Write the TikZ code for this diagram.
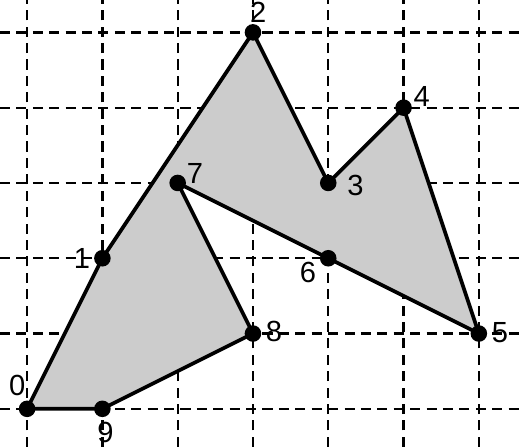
\documentclass[tikz,border=0pt]{standalone}
\usepackage{fontspec}
\setmainfont{Liberation Sans}
\usetikzlibrary{positioning}

\begin{document}
\begin{tikzpicture}
    \tikzset{gridline/.style={draw=black,dash pattern=on 3.8pt off 2.4pt,line width=0.85pt}}
    \tikzset{region/.style={draw=black,fill=black!20,line width=1.4pt,line join=round}}
    \tikzset{vertex/.style={circle,fill=black,inner sep=0pt,minimum size=0.22cm}}
    \tikzset{tag/.style={inner sep=0pt,font=\fontsize{11}{13}\selectfont}}
    \useasboundingbox (-0.36,-0.505) rectangle (6.56,5.43);
    % Grid
    \draw[gridline] (-0.36,-0.505) grid (6.56,5.43);
    % Vertices
    \foreach \n/\x/\y in {0/0/0, 1/1/2, 2/3/5, 3/4/3, 4/5/4, 5/6/1, 6/4/2, 7/2/3, 8/3/1, 9/1/0}
        \coordinate (p\n) at (\x,\y);
    % Polygon
    \draw[region] (p0) -- (p1) -- (p2) -- (p3) -- (p4) -- (p5) -- (p6) -- (p7) -- (p8) -- (p9) -- cycle;
    \foreach \n in {0,...,9}
        \node[vertex] (v\n) at (p\n) {};
    % Labels
    \foreach \n/\dx/\dy in {0/-0.13/0.31, 1/-0.27/0, 2/0.07/0.27, 3/0.36/-0.04, 4/0.24/0.15,
                            5/0.28/0.01, 6/-0.27/-0.19, 7/0.23/0.12, 8/0.28/0.03, 9/0.04/-0.31}
        \node[tag] (t\n) at ([shift={(\dx,\dy)}]p\n) {\n};
\end{tikzpicture}
\end{document}
